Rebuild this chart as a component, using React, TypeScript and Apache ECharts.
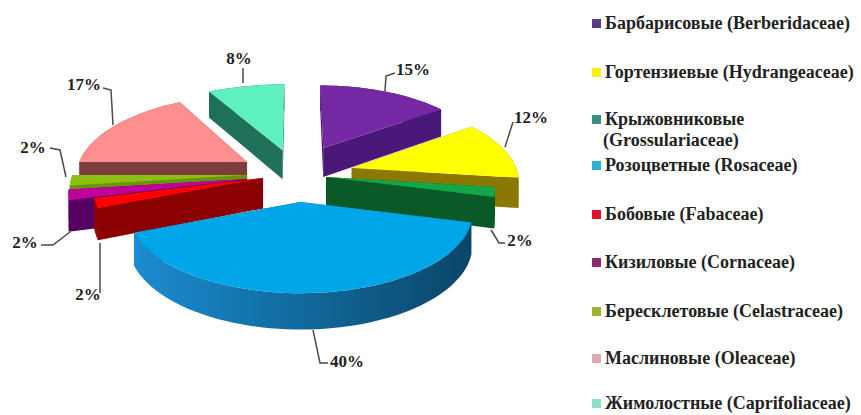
import React, { useEffect, useRef } from "react";
import * as echarts from "echarts";

const families = [
  "Барбарисовые (Berberidaceae)",
  "Гортензиевые (Hydrangeaceae)",
  "Крыжовниковые (Grossulariaceae)",
  "Розоцветные (Rosaceae)",
  "Бобовые (Fabaceae)",
  "Кизиловые (Cornaceae)",
  "Бересклетовые (Celastraceae)",
  "Маслиновые (Oleaceae)",
  "Жимолостные (Caprifoliaceae)",
];
const shares = [15, 12, 2, 40, 2, 2, 2, 17, 8];
const topColors = ["#7428a4", "#ffff00", "#12a84a", "#00a6e8", "#ff0000", "#c0009a", "#8cc010", "#ff8f8f", "#5ff0c0"];
const wallColors = ["#4a1878", "#8a7800", "#0a5a28", "#14709f", "#8b0000", "#560062", "#6a9410", "#7a3e3e", "#1f7058"];
const legendColors = ["#5b3a86", "#f4f400", "#3a9080", "#2eb0d0", "#e01030", "#8a2a70", "#a0b030", "#e0a8b0", "#90e0c8"];
const paintOrder = [8, 0, 7, 6, 5, 1, 2, 4, 3];

// explosion of every slice, in units of the pie radius (across, away from the viewer)
const explode = [
  [0.165, 0.3], [0.333, 0.026], [0.174, -0.091], [0.02, -0.399], [-0.203, -0.104],
  [-0.298, -0.117], [-0.3, -0.066], [-0.307, 0.107], [-0.09, 0.27],
];
const radiusAcross = [1, 1, 1, 0.98, 1, 1.05, 1.05, 1.03, 1.09];
const radiusAlong = [1, 1, 1, 0.94, 1, 1.05, 1.05, 1.03, 1.05];

const legendRows: { i: number; y: number; lines: string[] }[] = [
  { i: 0, y: 23, lines: [families[0]] },
  { i: 1, y: 72, lines: [families[1]] },
  { i: 2, y: 119, lines: ["Крыжовниковые", "(Grossulariaceae)"] },
  { i: 3, y: 165, lines: [families[3]] },
  { i: 4, y: 214, lines: [families[4]] },
  { i: 5, y: 262, lines: [families[5]] },
  { i: 6, y: 311, lines: [families[6]] },
  { i: 7, y: 358, lines: [families[7]] },
  { i: 8, y: 403, lines: [families[8]] },
];

const leaders: { i: number; pts: number[][]; x: number; y: number }[] = [
  { i: 0, pts: [[385, 91], [386, 76], [395, 73]], x: 413, y: 69 },
  { i: 1, pts: [[505, 147], [513, 122]], x: 531, y: 117 },
  { i: 2, pts: [[491, 230], [499, 243], [505, 243]], x: 520, y: 240 },
  { i: 3, pts: [[313, 330], [320, 363], [328, 363]], x: 347, y: 361 },
  { i: 4, pts: [[100, 243], [100, 293]], x: 88, y: 294 },
  { i: 5, pts: [[70, 232], [53, 245], [41, 245]], x: 25, y: 242 },
  { i: 6, pts: [[66, 177], [60, 150], [50, 148]], x: 33, y: 147 },
  { i: 7, pts: [[113, 125], [111, 90], [103, 88]], x: 84, y: 84 },
  { i: 8, pts: [[243, 83], [243, 68]], x: 239, y: 58 },
];

const CX = 297, CY = 170, A = 165, B = 76, P = 0.13, DEPTH = 30;
const total = shares.reduce((s, v) => s + v, 0);
const project = (u: number, v: number, down = 0): number[] => {
  const w = 1 + P * v;
  return [CX + (A * u) / w, CY - (B * v) / w + (down ? DEPTH / w : 0)];
};

function renderSlice(index: number) {
  return (_params: any, api: any) => {
    const before = shares.slice(0, index).reduce((s, v) => s + v, 0);
    const start = (before / total) * Math.PI * 2;
    const sweep = (api.value(0) / total) * Math.PI * 2;
    const [ou, ov] = explode[index];
    const steps = Math.max(2, Math.round(sweep / 0.04));
    const rimDisk: number[][] = [];
    for (let k = 0; k <= steps; k++) {
      const t = start + (sweep * k) / steps;
      rimDisk.push([ou + radiusAcross[index] * Math.sin(t), ov + radiusAlong[index] * Math.cos(t)]);
    }
    const rimTop = rimDisk.map((p) => project(p[0], p[1]));
    const rimLow = rimDisk.map((p) => project(p[0], p[1], 1));
    const apexTop = project(ou, ov);
    const apexLow = project(ou, ov, 1);
    const wall = index === 3
      ? { type: "linear", x: 0, y: 0, x2: 1, y2: 0, colorStops: [
          { offset: 0, color: "#1a8cd0" }, { offset: 0.5, color: "#11699c" }, { offset: 1, color: "#0b4568" } ] }
      : wallColors[index];
    const poly = (points: number[][], fill: any) => ({
      type: "polygon", silent: true, shape: { points }, style: { fill, stroke: null },
    });
    return {
      type: "group",
      children: [
        poly([apexTop, rimTop[0], rimLow[0], apexLow], wallColors[index]),
        poly([apexTop, rimTop[steps], rimLow[steps], apexLow], wallColors[index]),
        poly([...rimTop, ...rimLow.slice().reverse()], wall),
        poly([apexTop, ...rimTop], topColors[index]),
      ],
    };
  };
}

export default function App() {
  const ref = useRef<HTMLDivElement>(null);
  useEffect(() => {
    document.body.style.margin = "0";
    const chart = echarts.init(ref.current!, undefined, { renderer: "svg" });
    const graphic: any[] = [];
    leaders.forEach((l) => {
      graphic.push({ type: "polyline", z: 20, silent: true, shape: { points: l.pts }, style: { stroke: "#4a4a4a", lineWidth: 1.5, fill: null } });
      graphic.push({
        type: "text", z: 20, x: l.x, y: l.y,
        style: { text: shares[l.i] + "%", font: 'bold 17px "Liberation Serif"', fill: "#222", align: "center", verticalAlign: "middle" },
      });
    });
    legendRows.forEach((r) => {
      graphic.push({ type: "rect", z: 20, silent: true, shape: { x: 592, y: r.y - 4, width: 9, height: 9 }, style: { fill: legendColors[r.i] } });
      r.lines.forEach((line, n) => {
        graphic.push({
          type: "text", z: 20, x: n === 0 ? 605 : 603, y: r.y + n * 21,
          style: { text: line, font: 'bold 18px "Liberation Serif"', fill: "#222", align: "left", verticalAlign: "middle" },
        });
      });
    });
    chart.setOption({
      animation: false,
      backgroundColor: "#ffffff",
      graphic,
      series: paintOrder.map((i, rank) => ({
        type: "custom",
        name: families[i],
        coordinateSystem: "none",
        silent: true,
        z: 2 + rank,
        data: [[shares[i]]],
        renderItem: renderSlice(i),
      })),
    });
    return () => chart.dispose();
  }, []);
  return <div ref={ref} style={{ width: 861, height: 415 }} />;
}
